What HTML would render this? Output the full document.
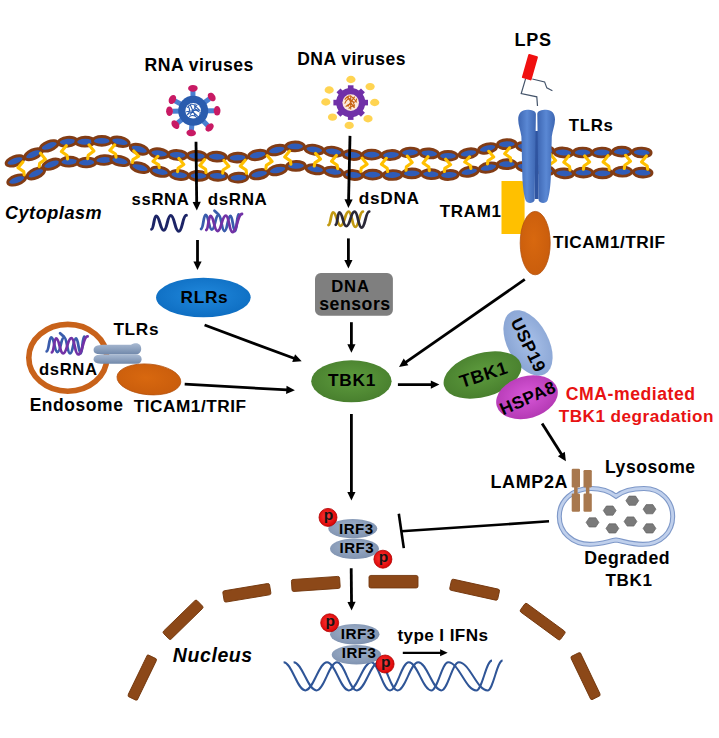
<!DOCTYPE html>
<html><head><meta charset="utf-8"><style>html,body{margin:0;padding:0;background:#fff;width:719px;height:738px;overflow:hidden}svg{display:block}</style></head><body><svg width="719" height="738" viewBox="0 0 719 738"><defs><marker id="ah" markerWidth="9" markerHeight="9" refX="8.6" refY="4.5" orient="auto" markerUnits="userSpaceOnUse"><path d="M0,0 L9,4.5 L0,9 Z" fill="#000"/></marker><marker id="ahs" markerWidth="8" markerHeight="8" refX="7.6" refY="3.5" orient="auto" markerUnits="userSpaceOnUse"><path d="M0,0 L8,3.5 L0,7 Z" fill="#000"/></marker><radialGradient id="gRLR" cx="0.5" cy="0.45" r="0.6"><stop offset="0" stop-color="#2088dc"/><stop offset="1" stop-color="#0d6cc0"/></radialGradient><radialGradient id="gTBK" cx="0.5" cy="0.45" r="0.62"><stop offset="0" stop-color="#5e9c3e"/><stop offset="1" stop-color="#467c2c"/></radialGradient><radialGradient id="gUSP" cx="0.5" cy="0.45" r="0.62"><stop offset="0" stop-color="#a8c0e8"/><stop offset="1" stop-color="#86a2d2"/></radialGradient><radialGradient id="gHSP" cx="0.5" cy="0.45" r="0.62"><stop offset="0" stop-color="#d858d8"/><stop offset="1" stop-color="#b036b0"/></radialGradient><radialGradient id="gIRF" cx="0.45" cy="0.4" r="0.65"><stop offset="0" stop-color="#9fb1ca"/><stop offset="1" stop-color="#7d90ae"/></radialGradient><linearGradient id="gTLR" x1="0" y1="0" x2="1" y2="0"><stop offset="0" stop-color="#3d66b2"/><stop offset="0.5" stop-color="#5a88d4"/><stop offset="1" stop-color="#3d66b2"/></linearGradient><linearGradient id="gTLR2" x1="0" y1="0" x2="1" y2="0"><stop offset="0" stop-color="#3d66b2"/><stop offset="0.5" stop-color="#5a88d4"/><stop offset="1" stop-color="#3d66b2"/></linearGradient><radialGradient id="gOr" cx="0.45" cy="0.45" r="0.62"><stop offset="0" stop-color="#d8680f"/><stop offset="1" stop-color="#c85c0c"/></radialGradient><linearGradient id="gCap" x1="0" y1="0" x2="0" y2="1"><stop offset="0" stop-color="#a9bad2"/><stop offset="0.5" stop-color="#8ea2bf"/><stop offset="1" stop-color="#7088aa"/></linearGradient><radialGradient id="gP" cx="0.45" cy="0.45" r="0.6"><stop offset="0" stop-color="#ff3a3a"/><stop offset="1" stop-color="#d80000"/></radialGradient></defs><ellipse cx="15" cy="160.9" rx="9.3" ry="4.4" transform="rotate(-20.0 15 160.9)" fill="#2f5cb8" stroke="#823c14" stroke-width="2.9"/><ellipse cx="33.4" cy="154.2" rx="9.3" ry="4.4" transform="rotate(-23.7 33.4 154.2)" fill="#2f5cb8" stroke="#823c14" stroke-width="2.9"/><ellipse cx="49.2" cy="145.9" rx="9.3" ry="4.4" transform="rotate(-20.1 49.2 145.9)" fill="#2f5cb8" stroke="#823c14" stroke-width="2.9"/><ellipse cx="67.6" cy="141.7" rx="9.3" ry="4.4" transform="rotate(-6.7 67.6 141.7)" fill="#2f5cb8" stroke="#823c14" stroke-width="2.9"/><ellipse cx="85.1" cy="141.7" rx="9.3" ry="4.4" transform="rotate(-1.3 85.1 141.7)" fill="#2f5cb8" stroke="#823c14" stroke-width="2.9"/><ellipse cx="101.8" cy="140.9" rx="9.3" ry="4.4" transform="rotate(0.0 101.8 140.9)" fill="#2f5cb8" stroke="#823c14" stroke-width="2.9"/><ellipse cx="120" cy="141.7" rx="9.3" ry="4.4" transform="rotate(12.5 120 141.7)" fill="#2f5cb8" stroke="#823c14" stroke-width="2.9"/><ellipse cx="139.2" cy="149.2" rx="9.3" ry="4.4" transform="rotate(16.6 139.2 149.2)" fill="#2f5cb8" stroke="#823c14" stroke-width="2.9"/><ellipse cx="159.2" cy="153.4" rx="9.3" ry="4.4" transform="rotate(8.6 159.2 153.4)" fill="#2f5cb8" stroke="#823c14" stroke-width="2.9"/><ellipse cx="177.6" cy="155" rx="9.3" ry="4.4" transform="rotate(3.8 177.6 155)" fill="#2f5cb8" stroke="#823c14" stroke-width="2.9"/><ellipse cx="196.8" cy="155.9" rx="9.3" ry="4.4" transform="rotate(2.5 196.8 155.9)" fill="#2f5cb8" stroke="#823c14" stroke-width="2.9"/><ellipse cx="216.8" cy="156.7" rx="9.3" ry="4.4" transform="rotate(2.4 216.8 156.7)" fill="#2f5cb8" stroke="#823c14" stroke-width="2.9"/><ellipse cx="237.5" cy="157.6" rx="9.3" ry="4.4" transform="rotate(-2.4 237.5 157.6)" fill="#2f5cb8" stroke="#823c14" stroke-width="2.9"/><ellipse cx="257.6" cy="155" rx="9.3" ry="4.4" transform="rotate(-10.9 257.6 155)" fill="#2f5cb8" stroke="#823c14" stroke-width="2.9"/><ellipse cx="276.8" cy="150" rx="9.3" ry="4.4" transform="rotate(-12.9 276.8 150)" fill="#2f5cb8" stroke="#823c14" stroke-width="2.9"/><ellipse cx="295.1" cy="146.4" rx="9.3" ry="4.4" transform="rotate(-0.5 295.1 146.4)" fill="#2f5cb8" stroke="#823c14" stroke-width="2.9"/><ellipse cx="314.3" cy="149.7" rx="9.3" ry="4.4" transform="rotate(7.9 314.3 149.7)" fill="#2f5cb8" stroke="#823c14" stroke-width="2.9"/><ellipse cx="333.5" cy="151.7" rx="9.3" ry="4.4" transform="rotate(7.9 333.5 151.7)" fill="#2f5cb8" stroke="#823c14" stroke-width="2.9"/><ellipse cx="352.5" cy="155" rx="9.3" ry="4.4" transform="rotate(4.5 352.5 155)" fill="#2f5cb8" stroke="#823c14" stroke-width="2.9"/><ellipse cx="371.7" cy="154.7" rx="9.3" ry="4.4" transform="rotate(0.0 371.7 154.7)" fill="#2f5cb8" stroke="#823c14" stroke-width="2.9"/><ellipse cx="391" cy="155" rx="9.3" ry="4.4" transform="rotate(-3.3 391 155)" fill="#2f5cb8" stroke="#823c14" stroke-width="2.9"/><ellipse cx="410" cy="152.5" rx="9.3" ry="4.4" transform="rotate(-2.4 410 152.5)" fill="#2f5cb8" stroke="#823c14" stroke-width="2.9"/><ellipse cx="429.3" cy="153.4" rx="9.3" ry="4.4" transform="rotate(5.1 429.3 153.4)" fill="#2f5cb8" stroke="#823c14" stroke-width="2.9"/><ellipse cx="448" cy="155.9" rx="9.3" ry="4.4" transform="rotate(0.0 448 155.9)" fill="#2f5cb8" stroke="#823c14" stroke-width="2.9"/><ellipse cx="468.4" cy="153.4" rx="9.3" ry="4.4" transform="rotate(-10.7 468.4 153.4)" fill="#2f5cb8" stroke="#823c14" stroke-width="2.9"/><ellipse cx="487.6" cy="148.4" rx="9.3" ry="4.4" transform="rotate(-13.5 487.6 148.4)" fill="#2f5cb8" stroke="#823c14" stroke-width="2.9"/><ellipse cx="506.8" cy="144.2" rx="9.3" ry="4.4" transform="rotate(-2.1 506.8 144.2)" fill="#2f5cb8" stroke="#823c14" stroke-width="2.9"/><ellipse cx="525.7" cy="147" rx="9.3" ry="4.4" transform="rotate(8.7 525.7 147)" fill="#2f5cb8" stroke="#823c14" stroke-width="2.9"/><ellipse cx="544.6" cy="150" rx="9.3" ry="4.4" transform="rotate(8.3 544.6 150)" fill="#2f5cb8" stroke="#823c14" stroke-width="2.9"/><ellipse cx="563.4" cy="152.5" rx="9.3" ry="4.4" transform="rotate(3.8 563.4 152.5)" fill="#2f5cb8" stroke="#823c14" stroke-width="2.9"/><ellipse cx="582.6" cy="152.5" rx="9.3" ry="4.4" transform="rotate(0.0 582.6 152.5)" fill="#2f5cb8" stroke="#823c14" stroke-width="2.9"/><ellipse cx="601.8" cy="152.5" rx="9.3" ry="4.4" transform="rotate(-1.2 601.8 152.5)" fill="#2f5cb8" stroke="#823c14" stroke-width="2.9"/><ellipse cx="621.8" cy="151.7" rx="9.3" ry="4.4" transform="rotate(0.0 621.8 151.7)" fill="#2f5cb8" stroke="#823c14" stroke-width="2.9"/><ellipse cx="641.8" cy="152.5" rx="9.3" ry="4.4" transform="rotate(2.3 641.8 152.5)" fill="#2f5cb8" stroke="#823c14" stroke-width="2.9"/><ellipse cx="16.7" cy="180" rx="9.3" ry="4.4" transform="rotate(-19.0 16.7 180)" fill="#2f5cb8" stroke="#823c14" stroke-width="2.9"/><ellipse cx="35.9" cy="173.4" rx="9.3" ry="4.4" transform="rotate(-24.2 35.9 173.4)" fill="#2f5cb8" stroke="#823c14" stroke-width="2.9"/><ellipse cx="51.8" cy="164.2" rx="9.3" ry="4.4" transform="rotate(-19.3 51.8 164.2)" fill="#2f5cb8" stroke="#823c14" stroke-width="2.9"/><ellipse cx="69.3" cy="161.7" rx="9.3" ry="4.4" transform="rotate(-2.8 69.3 161.7)" fill="#2f5cb8" stroke="#823c14" stroke-width="2.9"/><ellipse cx="86.8" cy="162.5" rx="9.3" ry="4.4" transform="rotate(-2.8 86.8 162.5)" fill="#2f5cb8" stroke="#823c14" stroke-width="2.9"/><ellipse cx="104.3" cy="160" rx="9.3" ry="4.4" transform="rotate(-2.8 104.3 160)" fill="#2f5cb8" stroke="#823c14" stroke-width="2.9"/><ellipse cx="120" cy="160.9" rx="9.3" ry="4.4" transform="rotate(12.0 120 160.9)" fill="#2f5cb8" stroke="#823c14" stroke-width="2.9"/><ellipse cx="140" cy="167.6" rx="9.3" ry="4.4" transform="rotate(15.1 140 167.6)" fill="#2f5cb8" stroke="#823c14" stroke-width="2.9"/><ellipse cx="160" cy="171.7" rx="9.3" ry="4.4" transform="rotate(10.7 160 171.7)" fill="#2f5cb8" stroke="#823c14" stroke-width="2.9"/><ellipse cx="179.3" cy="175" rx="9.3" ry="4.4" transform="rotate(6.2 179.3 175)" fill="#2f5cb8" stroke="#823c14" stroke-width="2.9"/><ellipse cx="198.5" cy="175.9" rx="9.3" ry="4.4" transform="rotate(1.3 198.5 175.9)" fill="#2f5cb8" stroke="#823c14" stroke-width="2.9"/><ellipse cx="217.7" cy="175.9" rx="9.3" ry="4.4" transform="rotate(2.4 217.7 175.9)" fill="#2f5cb8" stroke="#823c14" stroke-width="2.9"/><ellipse cx="238.4" cy="177.6" rx="9.3" ry="4.4" transform="rotate(-2.3 238.4 177.6)" fill="#2f5cb8" stroke="#823c14" stroke-width="2.9"/><ellipse cx="259.2" cy="174.2" rx="9.3" ry="4.4" transform="rotate(-11.0 259.2 174.2)" fill="#2f5cb8" stroke="#823c14" stroke-width="2.9"/><ellipse cx="277.6" cy="170" rx="9.3" ry="4.4" transform="rotate(-12.7 277.6 170)" fill="#2f5cb8" stroke="#823c14" stroke-width="2.9"/><ellipse cx="296" cy="165.9" rx="9.3" ry="4.4" transform="rotate(-1.2 296 165.9)" fill="#2f5cb8" stroke="#823c14" stroke-width="2.9"/><ellipse cx="315.2" cy="169.2" rx="9.3" ry="4.4" transform="rotate(8.8 315.2 169.2)" fill="#2f5cb8" stroke="#823c14" stroke-width="2.9"/><ellipse cx="333.5" cy="171.7" rx="9.3" ry="4.4" transform="rotate(8.6 333.5 171.7)" fill="#2f5cb8" stroke="#823c14" stroke-width="2.9"/><ellipse cx="353.4" cy="175" rx="9.3" ry="4.4" transform="rotate(4.4 353.4 175)" fill="#2f5cb8" stroke="#823c14" stroke-width="2.9"/><ellipse cx="372.6" cy="174.7" rx="9.3" ry="4.4" transform="rotate(0.0 372.6 174.7)" fill="#2f5cb8" stroke="#823c14" stroke-width="2.9"/><ellipse cx="392.6" cy="175" rx="9.3" ry="4.4" transform="rotate(-1.9 392.6 175)" fill="#2f5cb8" stroke="#823c14" stroke-width="2.9"/><ellipse cx="411.8" cy="173.4" rx="9.3" ry="4.4" transform="rotate(-1.2 411.8 173.4)" fill="#2f5cb8" stroke="#823c14" stroke-width="2.9"/><ellipse cx="431" cy="174.2" rx="9.3" ry="4.4" transform="rotate(2.5 431 174.2)" fill="#2f5cb8" stroke="#823c14" stroke-width="2.9"/><ellipse cx="449" cy="175" rx="9.3" ry="4.4" transform="rotate(-3.7 449 175)" fill="#2f5cb8" stroke="#823c14" stroke-width="2.9"/><ellipse cx="469.2" cy="171.7" rx="9.3" ry="4.4" transform="rotate(-10.6 469.2 171.7)" fill="#2f5cb8" stroke="#823c14" stroke-width="2.9"/><ellipse cx="488.4" cy="167.6" rx="9.3" ry="4.4" transform="rotate(-11.3 488.4 167.6)" fill="#2f5cb8" stroke="#823c14" stroke-width="2.9"/><ellipse cx="506.8" cy="164.2" rx="9.3" ry="4.4" transform="rotate(-0.9 506.8 164.2)" fill="#2f5cb8" stroke="#823c14" stroke-width="2.9"/><ellipse cx="525.7" cy="167" rx="9.3" ry="4.4" transform="rotate(8.7 525.7 167)" fill="#2f5cb8" stroke="#823c14" stroke-width="2.9"/><ellipse cx="544.6" cy="170" rx="9.3" ry="4.4" transform="rotate(9.4 544.6 170)" fill="#2f5cb8" stroke="#823c14" stroke-width="2.9"/><ellipse cx="564.2" cy="173.4" rx="9.3" ry="4.4" transform="rotate(3.8 564.2 173.4)" fill="#2f5cb8" stroke="#823c14" stroke-width="2.9"/><ellipse cx="583.4" cy="172.6" rx="9.3" ry="4.4" transform="rotate(0.0 583.4 172.6)" fill="#2f5cb8" stroke="#823c14" stroke-width="2.9"/><ellipse cx="602.6" cy="173.4" rx="9.3" ry="4.4" transform="rotate(-1.3 602.6 173.4)" fill="#2f5cb8" stroke="#823c14" stroke-width="2.9"/><ellipse cx="622.6" cy="171.7" rx="9.3" ry="4.4" transform="rotate(-1.1 622.6 171.7)" fill="#2f5cb8" stroke="#823c14" stroke-width="2.9"/><ellipse cx="642.7" cy="172.6" rx="9.3" ry="4.4" transform="rotate(2.6 642.7 172.6)" fill="#2f5cb8" stroke="#823c14" stroke-width="2.9"/><path d="M22.9,161.9 L18.0,167.7 L23.8,171.6 L24.2,174.9 M40.5,153.2 L45.4,159.3 L39.7,163.3 L39.2,166.6 M66.3,145.7 L61.4,151.6 L67.1,155.6 L67.6,158.9 M89.0,144.9 L93.9,151.0 L88.2,155.2 L87.7,158.6 M114.7,144.8 L109.8,150.4 L115.5,154.0 L116.0,157.1 M133.8,151.0 L138.7,156.2 L132.9,159.6 L132.5,162.5 M157.9,156.3 L153.0,161.4 L158.8,164.8 L159.2,167.6 M178.9,158.5 L183.8,164.4 L178.0,168.4 L177.6,171.6 M204.7,159.6 L199.8,165.4 L205.6,169.3 L206.0,172.5 M224.0,160.5 L228.9,166.2 L223.1,170.0 L222.7,173.1 M245.2,160.2 L240.3,166.1 L246.1,170.0 L246.5,173.3 M267.2,155.6 L272.1,161.5 L266.3,165.4 L265.9,168.7 M289.6,151.1 L284.7,157.0 L290.4,160.9 L290.9,164.2 M315.6,153.4 L320.5,159.1 L314.8,162.9 L314.3,166.0 M336.4,155.4 L331.5,161.3 L337.2,165.3 L337.7,168.6 M362.2,158.2 L367.1,164.2 L361.3,168.1 L360.9,171.4 M386.3,158.3 L381.4,164.2 L387.2,168.2 L387.6,171.5 M407.3,156.1 L412.2,162.5 L406.4,166.7 L406.0,170.3 M428.0,156.7 L423.1,163.0 L428.9,167.1 L429.3,170.6 M445.7,159.2 L450.6,164.7 L444.8,168.4 L444.4,171.5 M469.6,156.8 L464.7,162.0 L470.4,165.5 L470.9,168.4 M488.8,151.3 L493.7,157.0 L487.9,160.7 L487.5,163.9 M509.6,147.8 L504.7,153.8 L510.4,157.7 L510.9,161.0 M550.7,154.4 L555.6,160.4 L549.9,164.5 L549.4,167.9 M568.7,155.9 L563.8,162.2 L569.5,166.4 L570.0,169.9 M584.7,155.9 L589.6,161.9 L583.9,166.0 L583.4,169.3 M608.0,155.7 L603.1,162.0 L608.8,166.2 L609.3,169.6 M625.6,155.3 L630.5,161.2 L624.8,165.2 L624.3,168.5 M646.4,155.9 L641.5,161.9 L647.2,165.9 L647.7,169.2" fill="none" stroke="#ffc000" stroke-width="3.1" stroke-linejoin="round" stroke-linecap="round"/><line x1="193.2" y1="110.8" x2="192.9" y2="91.0" stroke="#4a7fd0" stroke-width="5"/><line x1="193.2" y1="110.8" x2="209.5" y2="98.7" stroke="#4a7fd0" stroke-width="5"/><line x1="193.2" y1="110.8" x2="214.2" y2="110.8" stroke="#4a7fd0" stroke-width="5"/><line x1="193.2" y1="110.8" x2="207.6" y2="125.5" stroke="#4a7fd0" stroke-width="5"/><line x1="193.2" y1="110.8" x2="191.4" y2="130.2" stroke="#4a7fd0" stroke-width="5"/><line x1="193.2" y1="110.8" x2="177.5" y2="122.9" stroke="#4a7fd0" stroke-width="5"/><line x1="193.2" y1="110.8" x2="172.3" y2="111.2" stroke="#4a7fd0" stroke-width="5"/><line x1="193.2" y1="110.8" x2="174.9" y2="100.9" stroke="#4a7fd0" stroke-width="5"/><ellipse cx="192.9" cy="88.3" rx="4.8" ry="3.4" transform="rotate(-1 192.9 88.3)" fill="#c81a64"/><ellipse cx="211.7" cy="97" rx="4.8" ry="3.4" transform="rotate(53 211.7 97)" fill="#c81a64"/><ellipse cx="217.1" cy="110.8" rx="4.8" ry="3.4" transform="rotate(90 217.1 110.8)" fill="#c81a64"/><ellipse cx="209.6" cy="127.5" rx="4.8" ry="3.4" transform="rotate(136 209.6 127.5)" fill="#c81a64"/><ellipse cx="191.2" cy="132.9" rx="4.8" ry="3.4" transform="rotate(185 191.2 132.9)" fill="#c81a64"/><ellipse cx="175.4" cy="124.6" rx="4.8" ry="3.4" transform="rotate(232 175.4 124.6)" fill="#c81a64"/><ellipse cx="169.5" cy="111.2" rx="4.8" ry="3.4" transform="rotate(269 169.5 111.2)" fill="#c81a64"/><ellipse cx="172.4" cy="99.5" rx="4.8" ry="3.4" transform="rotate(-61 172.4 99.5)" fill="#c81a64"/><circle cx="193.2" cy="110.8" r="15" fill="#2a5cae"/><circle cx="193.2" cy="110.8" r="7.8" fill="#fff"/><path d="M187.2,107.8 q4,-6 8,-2 t5,5 M187.2,114.8 q5,-5 9,0 t4,-3 M190.2,104.8 l5,11 M197.2,104.8 l-7,10 M186.2,111.8 l13,-2 M188.2,105.8 q3,6 -1,9 M195.2,103.8 q-2,6 4,8 M189.2,116.8 q4,-3 8,1" fill="none" stroke="#2a5cae" stroke-width="1.1"/><ellipse cx="350.9" cy="79.5" rx="4.6" ry="3.7" fill="#ffd452"/><ellipse cx="370.1" cy="86.6" rx="4.6" ry="3.7" fill="#ffd452"/><ellipse cx="374.7" cy="102.5" rx="4.6" ry="3.7" fill="#ffd452"/><ellipse cx="368" cy="118.7" rx="4.6" ry="3.7" fill="#ffd452"/><ellipse cx="349.2" cy="125.4" rx="4.6" ry="3.7" fill="#ffd452"/><ellipse cx="332.5" cy="117.1" rx="4.6" ry="3.7" fill="#ffd452"/><ellipse cx="325.8" cy="102" rx="4.6" ry="3.7" fill="#ffd452"/><ellipse cx="329.2" cy="90" rx="4.6" ry="3.7" fill="#ffd452"/><circle cx="350.7" cy="102.6" r="14.6" fill="#7030a8"/><rect x="347.9" y="85.3" width="5.6" height="4" fill="#7030a8" transform="rotate(0 350.7 102.6)"/><rect x="347.9" y="85.3" width="5.6" height="4" fill="#7030a8" transform="rotate(45 350.7 102.6)"/><rect x="347.9" y="85.3" width="5.6" height="4" fill="#7030a8" transform="rotate(90 350.7 102.6)"/><rect x="347.9" y="85.3" width="5.6" height="4" fill="#7030a8" transform="rotate(135 350.7 102.6)"/><rect x="347.9" y="85.3" width="5.6" height="4" fill="#7030a8" transform="rotate(180 350.7 102.6)"/><rect x="347.9" y="85.3" width="5.6" height="4" fill="#7030a8" transform="rotate(225 350.7 102.6)"/><rect x="347.9" y="85.3" width="5.6" height="4" fill="#7030a8" transform="rotate(270 350.7 102.6)"/><rect x="347.9" y="85.3" width="5.6" height="4" fill="#7030a8" transform="rotate(315 350.7 102.6)"/><circle cx="350.7" cy="102.6" r="8.3" fill="#fce8da"/><path d="M344.7,99.6 q4,-6 8,-2 t4,5 M345.7,106.6 q5,-5 9,0 M347.7,96.6 l6,11 M354.7,96.6 l-7,10 M350.7,95.6 l0,14 M344.7,103.6 q3,-7 7,-3 q4,4 5,-2 M346.7,97.6 q6,2 8,8 M348.7,108.6 q3,-4 6,-1" fill="none" stroke="#c86414" stroke-width="1.1"/><path d="M525.7,78.4 L521.2,93.5 L536.8,96.8 L537.5,106 M532.3,79 L544.6,81.9 L546.8,87.9 L552.4,90.8" fill="none" stroke="#44546a" stroke-width="1.2"/><rect x="-5" y="-12.5" width="10" height="25" rx="1" fill="#f01010" transform="translate(529.9,67.2) rotate(16)"/><path d="M501.5,181 L521,181 Q524.6,181 524.6,185 L524.6,234 L501.5,234 Z" fill="#ffc000"/><rect x="534.6" y="131" width="4" height="68" fill="#2f54a0"/><path d="M535.9,114 C535.9,111 531.5,109.8 527.2,109.8 C521.5,109.8 518.2,113.5 518.2,119.5 C518.2,125.5 520.6,130 521.4,136.5 L522.4,178 C522.9,189 524.2,196 525.6,200.3 C527,204 533.2,204 534.6,200.3 L535.9,114 Z" fill="url(#gTLR)"/><path d="M537.30,114.00 C537.30,111.00 541.70,109.80 546.00,109.80 C551.70,109.80 555.00,113.50 555.00,119.50 C555.00,125.50 552.60,130.00 551.80,136.50 L550.80,178.00 C550.30,189.00 549.00,196.00 547.60,200.30 C546.20,204.00 540.00,204.00 538.60,200.30 L537.30,114.00 Z" fill="url(#gTLR2)"/><ellipse cx="535.2" cy="243.1" rx="15" ry="31.7" fill="url(#gOr)" stroke="#b4520e" stroke-width="0.8"/><line x1="196" y1="141.7" x2="196.71" y2="202.90" stroke="#000" stroke-width="2.8"/><path d="M196.80,210.50 L192.60,201.95 L200.80,201.85 Z" fill="#000"/><line x1="197.5" y1="240" x2="197.50" y2="262.40" stroke="#000" stroke-width="2.8"/><path d="M197.50,270.00 L193.40,261.40 L201.60,261.40 Z" fill="#000"/><line x1="350" y1="135.9" x2="348.57" y2="200.40" stroke="#000" stroke-width="2.8"/><path d="M348.40,208.00 L344.49,199.31 L352.69,199.49 Z" fill="#000"/><line x1="348.4" y1="238.4" x2="348.40" y2="260.90" stroke="#000" stroke-width="2.8"/><path d="M348.40,268.50 L344.30,259.90 L352.50,259.90 Z" fill="#000"/><line x1="351.4" y1="322.2" x2="351.40" y2="345.20" stroke="#000" stroke-width="2.8"/><path d="M351.40,352.80 L347.30,344.20 L355.50,344.20 Z" fill="#000"/><line x1="204.6" y1="325" x2="294.58" y2="358.55" stroke="#000" stroke-width="2.8"/><path d="M301.70,361.20 L292.21,362.04 L295.07,354.35 Z" fill="#000"/><line x1="184.7" y1="384.2" x2="287.31" y2="389.88" stroke="#000" stroke-width="2.8"/><path d="M294.90,390.30 L286.09,393.92 L286.54,385.73 Z" fill="#000"/><line x1="524.8" y1="279.4" x2="405.24" y2="362.56" stroke="#000" stroke-width="2.8"/><path d="M399.00,366.90 L403.72,358.62 L408.40,365.36 Z" fill="#000"/><line x1="397.9" y1="384.6" x2="431.80" y2="384.60" stroke="#000" stroke-width="2.8"/><path d="M439.40,384.60 L430.80,388.70 L430.80,380.50 Z" fill="#000"/><line x1="351.4" y1="414" x2="351.40" y2="492.90" stroke="#000" stroke-width="2.8"/><path d="M351.40,500.50 L347.30,491.90 L355.50,491.90 Z" fill="#000"/><line x1="542.1" y1="423.4" x2="561.86" y2="454.86" stroke="#000" stroke-width="2.8"/><path d="M565.90,461.30 L557.85,456.20 L564.80,451.84 Z" fill="#000"/><line x1="351.2" y1="568.3" x2="351.53" y2="602.90" stroke="#000" stroke-width="2.8"/><path d="M351.60,610.50 L347.42,601.94 L355.62,601.86 Z" fill="#000"/><line x1="402.8" y1="652.8" x2="441.10" y2="652.80" stroke="#000" stroke-width="2.2"/><path d="M447.70,652.80 L440.10,656.30 L440.10,649.30 Z" fill="#000"/><line x1="549" y1="521.3" x2="401.3" y2="531.3" stroke="#000" stroke-width="2.6"/><line x1="398.8" y1="513.8" x2="403.8" y2="548.1" stroke="#000" stroke-width="2.6"/><path d="M151.6,229.2 C153.85,229.2 153.85,216 156.1,216 C159.95,216 159.95,230.3 163.8,230.3 C167.25,230.3 167.25,215.6 170.7,215.6 C174.70,215.6 174.70,231.3 178.7,231.3 C182.55,231.3 182.55,215.3 186.4,215.3" fill="none" stroke="#1c2466" stroke-width="3" stroke-linecap="round"/><path d="M201.1,229 C203.35,229 203.35,215 205.6,215 C208.75,215 208.75,229.6 211.9,229.6 C215.20,229.6 215.20,215 218.5,215 C221.50,215 221.50,231 224.5,231 C227.50,231 227.50,216 230.5,216 C232.85,216 232.85,231 235.2,231 C236.85,231 236.85,214.3 238.5,214.3 M214.5,210.8 L218.5,214.5" fill="none" stroke="#3a5cac" stroke-width="2.8" stroke-linecap="round"/><path d="M206.3,230 C208.40,230 208.40,216 210.5,216 C214.00,216 214.00,231 217.5,231 C221.65,231 221.65,215.7 225.8,215.7 C229.15,215.7 229.15,232 232.5,232 C237.25,232 237.25,214 242,214" fill="none" stroke="#7232a6" stroke-width="2.8" stroke-linecap="round"/><path d="M328.5,225.1 C330.75,225.1 330.75,212.3 333,212.3 C336.85,212.3 336.85,225.8 340.7,225.8 C344.70,225.8 344.70,211.6 348.7,211.6 C352.00,211.6 352.00,226.9 355.3,226.9 C359.10,226.9 359.10,211.6 362.9,211.6" fill="none" stroke="#c29a12" stroke-width="2.8" stroke-linecap="round"/><path d="M335.8,224.8 C337.55,224.8 337.55,212.3 339.3,212.3 C342.80,212.3 342.80,226.2 346.3,226.2 C350.45,226.2 350.45,211.6 354.6,211.6 C358.10,211.6 358.10,227.6 361.6,227.6 C365.40,227.6 365.40,211.6 369.2,211.6" fill="none" stroke="#2a2838" stroke-width="2.8" stroke-linecap="round"/><rect x="315" y="273" width="77.9" height="42.8" rx="5.8" fill="#7f7f7f"/><ellipse cx="203.4" cy="297.5" rx="47.3" ry="19.7" fill="url(#gRLR)"/><ellipse cx="351.4" cy="381.3" rx="40.2" ry="21" fill="url(#gTBK)"/><ellipse cx="67.8" cy="357.8" rx="39" ry="33.4" fill="none" stroke="#c8621a" stroke-width="5.6"/><g transform="translate(-154.4 122.4)"><path d="M201.1,229 C203.35,229 203.35,215 205.6,215 C208.75,215 208.75,229.6 211.9,229.6 C215.20,229.6 215.20,215 218.5,215 C221.50,215 221.50,231 224.5,231 C227.50,231 227.50,216 230.5,216 C232.85,216 232.85,231 235.2,231 C236.85,231 236.85,214.3 238.5,214.3 M214.5,210.8 L218.5,214.5" fill="none" stroke="#3a5cac" stroke-width="2.8" stroke-linecap="round"/><path d="M206.3,230 C208.40,230 208.40,216 210.5,216 C214.00,216 214.00,231 217.5,231 C221.65,231 221.65,215.7 225.8,215.7 C229.15,215.7 229.15,232 232.5,232 C237.25,232 237.25,214 242,214" fill="none" stroke="#7232a6" stroke-width="2.8" stroke-linecap="round"/></g><path d="M93.6,350 C93.6,346.5 97,345 103,344.8 L131,344.8 C133,343.5 134.5,343.2 136.1,343.2 C139.2,343.2 141.2,345.5 141.2,348.7 C141.2,352 139,354.4 136,354.4 L103,354.4 C97,354.4 93.6,353.5 93.6,350 Z" fill="url(#gCap)"/><path d="M93.6,359.2 C93.6,356 97,354.6 103,354.6 L136.5,354.6 C139.8,354.6 141.6,356.8 141.6,359.2 C141.6,361.8 139.8,363.8 136.5,363.8 L103,363.8 C97,363.8 93.6,362.5 93.6,359.2 Z" fill="url(#gCap)"/><ellipse cx="148.9" cy="379.4" rx="32" ry="15.3" transform="rotate(5 148.9 379.4)" fill="url(#gOr)" stroke="#b4520e" stroke-width="0.8"/><ellipse cx="528" cy="343" rx="35.5" ry="20.5" transform="rotate(62 528 343)" fill="url(#gUSP)"/><ellipse cx="482.5" cy="375" rx="40" ry="21.8" transform="rotate(-16 482.5 375)" fill="url(#gTBK)"/><ellipse cx="527" cy="397.2" rx="31.5" ry="21" transform="rotate(-16 527 397.2)" fill="url(#gHSP)"/><path d="M616,496.2 C608,490 600,488.5 591,488.5 C572,488.5 559.3,501 559.3,516.4 C559.3,532 572,544.3 590,544.3 C601,544.3 609,541 616,540 C623,541 631,544.3 643,544.3 C661,544.3 672.7,532 672.7,516.4 C672.7,501 661,488.5 644,488.5 C633,488.5 624,490 616,496.2 Z" fill="#fff" stroke="#7e98c8" stroke-width="5"/><path d="M616,496.2 C608,490 600,488.5 591,488.5 C572,488.5 559.3,501 559.3,516.4 C559.3,532 572,544.3 590,544.3 C601,544.3 609,541 616,540 C623,541 631,544.3 643,544.3 C661,544.3 672.7,532 672.7,516.4 C672.7,501 661,488.5 644,488.5 C633,488.5 624,490 616,496.2 Z" fill="none" stroke="#c0d0ec" stroke-width="2.8"/><path d="M625.9,500.7 L629.0,496.09999999999997 L635.5999999999999,496.09999999999997 L638.6999999999999,500.7 L635.5999999999999,505.3 L629.0,505.3 Z" fill="#7a7a7a" stroke="#636363" stroke-width="0.7"/><path d="M603.3000000000001,510.6 L606.4000000000001,506.0 L613.0,506.0 L616.1,510.6 L613.0,515.2 L606.4000000000001,515.2 Z" fill="#7a7a7a" stroke="#636363" stroke-width="0.7"/><path d="M643.1,509.2 L646.2,504.59999999999997 L652.8,504.59999999999997 L655.9,509.2 L652.8,513.8 L646.2,513.8 Z" fill="#7a7a7a" stroke="#636363" stroke-width="0.7"/><path d="M586.1,522.4 L589.2,517.8 L595.8,517.8 L598.9,522.4 L595.8,527.0 L589.2,527.0 Z" fill="#7a7a7a" stroke="#636363" stroke-width="0.7"/><path d="M624.1,521.5 L627.2,516.9 L633.8,516.9 L636.9,521.5 L633.8,526.1 L627.2,526.1 Z" fill="#7a7a7a" stroke="#636363" stroke-width="0.7"/><path d="M606.0,528.4 L609.1,523.8 L615.6999999999999,523.8 L618.8,528.4 L615.6999999999999,533.0 L609.1,533.0 Z" fill="#7a7a7a" stroke="#636363" stroke-width="0.7"/><path d="M643.1,528.4 L646.2,523.8 L652.8,523.8 L655.9,528.4 L652.8,533.0 L646.2,533.0 Z" fill="#7a7a7a" stroke="#636363" stroke-width="0.7"/><rect x="571.7" y="468.7" width="8.3" height="18.8" rx="1.2" fill="#a8784e"/><rect x="574.1" y="486" width="3.5" height="8" fill="#a8784e"/><rect x="571.7" y="493.5" width="8.3" height="18.3" rx="1.2" fill="#a8784e"/><rect x="583.5" y="470" width="8.3" height="17.5" rx="1.2" fill="#a8784e"/><rect x="585.9" y="486" width="3.5" height="8" fill="#a8784e"/><rect x="583.5" y="493.5" width="8.3" height="18.3" rx="1.2" fill="#a8784e"/><path d="M283.6,662.2 C291.8,662.2 297.1,690.4 305.3,690.4 C313.5,690.4 318.8,662.2 327,662.2 C335.3,662.2 340.5,690.4 348.8,690.4 C357.4,690.4 362.8,662.2 371.3,662.2 C378.4,662.2 382.9,690.4 390,690.4 C397.1,690.4 401.7,662.2 408.8,662.2 C417.4,662.2 422.8,690.4 431.3,690.4 C437.7,690.4 441.8,662.2 448.2,662.2 C458.9,662.2 465.6,690.4 476.3,690.4 C482.3,690.4 486.0,660.6 492,660.6" fill="none" stroke="#2f5597" stroke-width="2"/><path d="M293.6,662.2 C302.3,662.2 307.7,690.4 316.4,690.4 C324.2,690.4 329.2,662.2 337,662.2 C344.6,662.2 349.3,690.4 356.9,690.4 C365.3,690.4 370.6,662.2 379,662.2 C386.1,662.2 390.5,690.4 397.6,690.4 C405.4,690.4 410.4,662.2 418.2,662.2 C427.0,662.2 432.5,690.4 441.3,690.4 C447.9,690.4 452.2,662.2 458.8,662.2 C469.7,662.2 476.7,690.4 487.6,690.4 C493.3,690.4 496.9,660.6 502.6,660.6" fill="none" stroke="#2f5597" stroke-width="2"/><ellipse cx="352.8" cy="528.6" rx="24.5" ry="9.7" fill="url(#gIRF)"/><ellipse cx="354.5" cy="548.7" rx="24.5" ry="10.3" fill="url(#gIRF)"/><ellipse cx="354.8" cy="634.2" rx="24.7" ry="10.3" fill="url(#gIRF)"/><ellipse cx="356.4" cy="654.8" rx="24.7" ry="9.7" fill="url(#gIRF)"/><circle cx="328" cy="517.4" r="9" fill="url(#gP)" stroke="#b00000" stroke-width="0.8"/><circle cx="382.9" cy="559.2" r="9" fill="url(#gP)" stroke="#b00000" stroke-width="0.8"/><circle cx="329.7" cy="622.8" r="9" fill="url(#gP)" stroke="#b00000" stroke-width="0.8"/><circle cx="385.1" cy="664" r="9" fill="url(#gP)" stroke="#b00000" stroke-width="0.8"/><rect x="-23.10" y="-5.25" width="46.20" height="10.50" rx="1.8" fill="#8c4818" stroke="#74380e" stroke-width="0.9" transform="translate(142.25 677.60) rotate(-64.21)"/><rect x="-23.51" y="-5.50" width="47.03" height="11.00" rx="1.8" fill="#8c4818" stroke="#74380e" stroke-width="0.9" transform="translate(183.05 619.80) rotate(-44.22)"/><rect x="-23.67" y="-5.70" width="47.35" height="11.40" rx="1.8" fill="#8c4818" stroke="#74380e" stroke-width="0.9" transform="translate(246.85 592.80) rotate(-9.48)"/><rect x="-24.16" y="-6.00" width="48.31" height="12.00" rx="1.8" fill="#8c4818" stroke="#74380e" stroke-width="0.9" transform="translate(315.80 583.95) rotate(-3.92)"/><rect x="-24.50" y="-6.25" width="49.00" height="12.50" rx="1.8" fill="#8c4818" stroke="#74380e" stroke-width="0.9" transform="translate(393.50 581.70) rotate(0.00)"/><rect x="-24.58" y="-5.65" width="49.16" height="11.30" rx="1.8" fill="#8c4818" stroke="#74380e" stroke-width="0.9" transform="translate(474.60 589.70) rotate(12.45)"/><rect x="-24.86" y="-5.25" width="49.72" height="10.50" rx="1.8" fill="#8c4818" stroke="#74380e" stroke-width="0.9" transform="translate(542.65 621.60) rotate(36.25)"/><rect x="-23.95" y="-5.35" width="47.90" height="10.70" rx="1.8" fill="#8c4818" stroke="#74380e" stroke-width="0.9" transform="translate(585.55 676.10) rotate(64.40)"/><g font-family="Liberation Sans, sans-serif" font-weight="bold"><text x="144.62" y="71.40" font-size="17.58" fill="#000" letter-spacing="0.484">RNA viruses</text><text x="297.13" y="65.40" font-size="17.53" fill="#000" letter-spacing="0.482">DNA viruses</text><text x="514.39" y="45.80" font-size="18.04" fill="#000" letter-spacing="0.782">LPS</text><text x="568.81" y="131.40" font-size="16.83" fill="#000" letter-spacing="0.647">TLRs</text><text x="131.61" y="205.20" font-size="16.70" fill="#000" letter-spacing="0.633">ssRNA</text><text x="207.70" y="205.20" font-size="16.98" fill="#000" letter-spacing="0.653">dsRNA</text><text x="358.79" y="204.20" font-size="17.28" fill="#000" letter-spacing="0.665">dsDNA</text><text x="439.81" y="216.90" font-size="16.94" fill="#000" letter-spacing="0.679">TRAM1</text><text x="552.91" y="248.10" font-size="17.23" fill="#000" letter-spacing="0.501">TICAM1/TRIF</text><text x="4.92" y="218.80" font-size="18.10" fill="#000" font-style="italic" letter-spacing="0.536">Cytoplasm</text><text x="180.55" y="303.10" font-size="17.26" fill="#000" letter-spacing="0.679">RLRs</text><text x="331.18" y="292.00" font-size="16.70" fill="#000" letter-spacing="0.816">DNA</text><text x="319.18" y="309.50" font-size="17.70" fill="#000" letter-spacing="0.523">sensors</text><text x="113.41" y="335.20" font-size="17.26" fill="#000" letter-spacing="0.664">TLRs</text><text x="38.92" y="374.60" font-size="16.69" fill="#000" letter-spacing="0.642">dsRNA</text><text x="29.63" y="410.60" font-size="17.44" fill="#000" letter-spacing="0.588">Endosome</text><text x="133.81" y="412.00" font-size="17.23" fill="#000" letter-spacing="0.501">TICAM1/TRIF</text><text x="328.11" y="386.00" font-size="17.29" fill="#000" letter-spacing="0.698">TBK1</text><text x="0" y="6.3" font-size="18" letter-spacing="0.6" text-anchor="middle" transform="translate(483.6 374.4) rotate(-18)">TBK1</text><text x="0" y="6.3" font-size="17.4" letter-spacing="0.6" text-anchor="middle" transform="translate(528.6 344.8) rotate(64)">USP19</text><text x="0" y="6.3" font-size="17.4" letter-spacing="0.6" text-anchor="middle" transform="translate(527.6 397.6) rotate(-24)">HSPA8</text><text x="565.78" y="400.40" font-size="17.66" fill="#e81212" letter-spacing="0.521">CMA-mediated</text><text x="558.71" y="422.20" font-size="17.18" fill="#e81212" letter-spacing="0.461">TBK1 degradation</text><text x="490.40" y="488.10" font-size="17.93" fill="#000" letter-spacing="0.679">LAMP2A</text><text x="604.93" y="473.20" font-size="17.56" fill="#000" letter-spacing="0.573">Lysosome</text><text x="584.32" y="564.20" font-size="17.70" fill="#000" letter-spacing="0.534">Degraded</text><text x="605.51" y="585.80" font-size="17.06" fill="#000" letter-spacing="0.689">TBK1</text><text x="397.39" y="640.60" font-size="17.12" fill="#000" letter-spacing="0.404">type I IFNs</text><text x="172.86" y="662.10" font-size="19.48" fill="#000" font-style="italic" letter-spacing="0.587">Nucleus</text><text x="338.99" y="533.60" font-size="15.09" fill="#000" letter-spacing="0.489">IRF3</text><text x="339.59" y="552.50" font-size="15.05" fill="#000" letter-spacing="0.488">IRF3</text><text x="340.67" y="639.10" font-size="15.33" fill="#000" letter-spacing="0.497">IRF3</text><text x="341.79" y="658.00" font-size="15.05" fill="#000" letter-spacing="0.488">IRF3</text><text x="328.6" y="520.4" font-size="15.5" text-anchor="middle" fill="#141414">p</text><text x="383.5" y="562.2" font-size="15.5" text-anchor="middle" fill="#141414">p</text><text x="330.3" y="625.8" font-size="15.5" text-anchor="middle" fill="#141414">p</text><text x="385.70000000000005" y="667.0" font-size="15.5" text-anchor="middle" fill="#141414">p</text></g></svg></body></html>
